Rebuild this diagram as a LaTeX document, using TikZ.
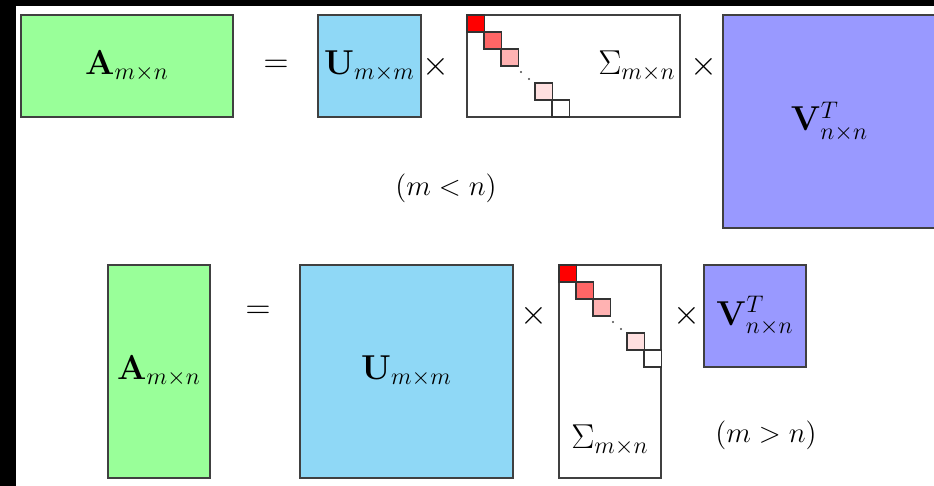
\documentclass[tikz,border=0pt]{standalone}
\usepackage{graphicx}
\definecolor{agreen}{RGB}{153,255,153}
\definecolor{ublue}{RGB}{143,216,246}
\definecolor{vpurple}{RGB}{153,153,255}
\definecolor{edge}{RGB}{64,64,64}
\tikzset{
  mat/.style={draw=edge, line width=0.7pt, inner sep=0pt, outer sep=0pt, rectangle},
  lbl/.style={inner sep=0pt, font=\LARGE},
  sgn/.style={inner sep=0pt, font=\LARGE},
  cond/.style={inner sep=0pt, font=\Large},
  sq/.style={draw=edge!80!black, line width=0.7pt, inner sep=0pt, outer sep=0pt, minimum width=8.6pt, minimum height=8.6pt, anchor=north west},
  dotm/.style={fill=black!70, circle, inner sep=0pt, minimum size=1.2pt}
}
\begin{document}
\begin{tikzpicture}[x=0.5pt, y=-0.5pt]
\useasboundingbox (0,0) rectangle (934,486);
\fill[white] (0,0) rectangle (934,486);
\clip (0,0) rectangle (934,486);
\fill[black] (0,0) rectangle (934,6);
\fill[black] (0,0) rectangle (16,486);
% top row (m<n)
\node[mat, fill=agreen, minimum width=106pt, minimum height=51pt] (A1) at (127,66) {};
\node[lbl] (A1l) at (A1.center) {$\mathbf{A}_{m\times n}$};
\node[sgn] (eq1) at (276,66) {$=$};
\node[mat, fill=ublue, minimum width=51.5pt, minimum height=51pt] (U1) at (369.5,66) {};
\node[lbl] (U1l) at (U1.center) {$\mathbf{U}_{m\times m}$};
\node[sgn] (x1) at (436,67) {$\times$};
\node[mat, fill=white, minimum width=106.5pt, minimum height=51pt] (S1) at (573.5,66) {};
\node[sgn] (x2) at (704,67) {$\times$};
\node[mat, fill=vpurple, minimum width=106.5pt, minimum height=106.5pt] (V1) at (829.5,121.5) {};
\node[lbl] (V1l) at (V1.center) {$\mathbf{V}^T_{n\times n}$};
\node[cond] (c1) at (446,188) {$(m<n)$};
% squares top
\node[sq, fill=red] (t0) at (S1.north west) {};
\node[sq, fill=red!60] (t1) at ([shift={(17,17)}]S1.north west) {};
\node[sq, fill=red!30] (t2) at ([shift={(34,34)}]S1.north west) {};
\node[sq, fill=red!12] (t4) at ([shift={(68,68)}]S1.north west) {};
\node[sq, fill=white] (t5) at ([shift={(85,85)}]S1.north west) {};
\node[dotm] (td1) at ([shift={(54,57)}]S1.north west) {};
\node[dotm] (td2) at ([shift={(62,64)}]S1.north west) {};
\node[lbl, anchor=east] (S1l) at ([shift={(-4,0)}]S1.east) {$\Sigma_{m\times n}$};
% bottom row (m>n)
\node[mat, fill=agreen, minimum width=51pt, minimum height=106.5pt] (A2) at (159,371.5) {};
\node[lbl] (A2l) at (A2.center) {$\mathbf{A}_{m\times n}$};
\node[sgn] (eq2) at (258,312) {$=$};
\node[mat, fill=ublue, minimum width=106.5pt, minimum height=106.5pt] (U2) at (406.5,371.5) {};
\node[lbl] (U2l) at (U2.center) {$\mathbf{U}_{m\times m}$};
\node[sgn] (x3) at (534,316) {$\times$};
\node[mat, fill=white, minimum width=51pt, minimum height=106.5pt] (S2) at (610,371.5) {};
\node[sgn] (x4) at (687,316) {$\times$};
\node[mat, fill=vpurple, minimum width=51pt, minimum height=51pt] (V2) at (755,316) {};
\node[lbl] (V2l) at (V2.center) {$\mathbf{V}^T_{n\times n}$};
\node[cond] (c2) at (766,435) {$(m>n)$};
% squares bottom
\node[sq, fill=red] (b0) at (S2.north west) {};
\node[sq, fill=red!60] (b1) at ([shift={(17,17)}]S2.north west) {};
\node[sq, fill=red!30] (b2) at ([shift={(34,34)}]S2.north west) {};
\node[sq, fill=red!12] (b4) at ([shift={(68,68)}]S2.north west) {};
\node[sq, fill=white] (b5) at ([shift={(85,85)}]S2.north west) {};
\node[dotm] (bd1) at ([shift={(54,57)}]S2.north west) {};
\node[dotm] (bd2) at ([shift={(62,64)}]S2.north west) {};
\node[lbl] (S2l) at (610,440) {$\Sigma_{m\times n}$};
\end{tikzpicture}
\end{document}
